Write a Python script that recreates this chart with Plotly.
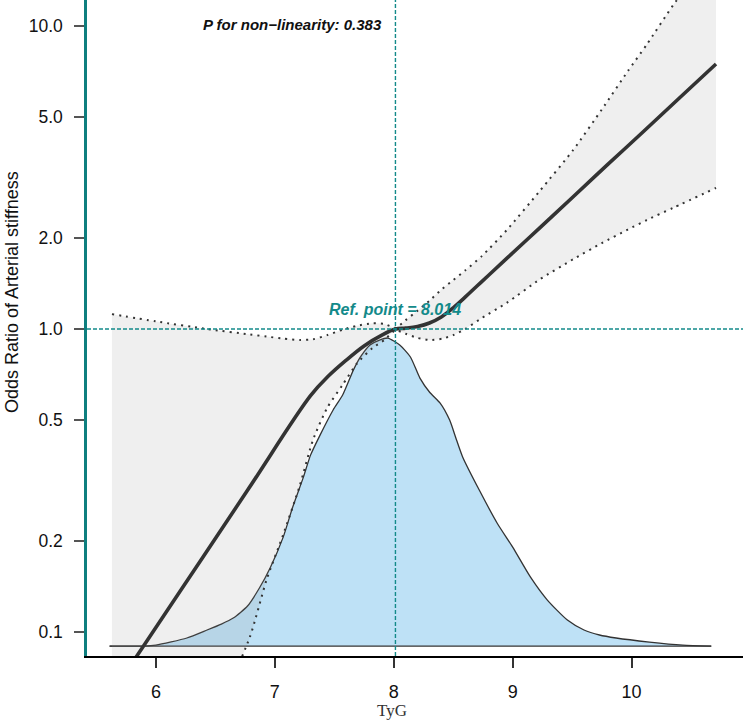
import numpy as np
import plotly.graph_objects as go

# ---------------- data ----------------
curve_x = [5.63, 6.2, 6.77, 7.30, 7.45, 7.60, 7.75, 7.90, 8.014,
           8.1, 8.2, 8.3, 8.4, 8.5, 8.6, 8.7, 8.8, 8.95, 9.23, 9.5, 9.8, 10.1, 10.4, 10.71]
curve_or = [0.063, 0.136, 0.294, 0.603, 0.70, 0.79, 0.88, 0.955, 1.0,
            1.007, 1.02, 1.047, 1.096, 1.175, 1.274, 1.387, 1.507, 1.71, 2.16, 2.71, 3.49, 4.48, 5.77, 7.48]

ci_x = [5.63, 6.0, 6.43, 6.79, 6.93, 7.07, 7.21, 7.32, 7.44, 7.57, 7.69, 7.82, 7.92, 8.014,
        8.1, 8.2, 8.3, 8.41, 8.5, 8.6, 8.74, 8.95, 9.23, 9.51, 9.75, 9.97, 10.13, 10.35, 10.71]
ci_upper = [1.12, 1.06, 1.00, 0.96, 0.945, 0.93, 0.92, 0.925, 0.955, 0.995, 1.025, 1.045, 1.04, 1.01,
            1.07, 1.15, 1.24, 1.36, 1.45, 1.56, 1.74, 2.12, 2.86, 3.9, 5.3, 7.1, 8.7, 11.7, 18.0]
ci_lower = [0.010, 0.020, 0.045, 0.0966, 0.149, 0.21, 0.305, 0.43, 0.55, 0.655, 0.77, 0.865, 0.92, 0.99,
            0.965, 0.935, 0.92, 0.93, 0.955, 1.0, 1.087, 1.22, 1.46, 1.70, 1.92, 2.13, 2.29, 2.51, 2.92]

dens_x = [5.61, 5.9, 6.0, 6.26, 6.43, 6.55, 6.65, 6.77, 6.87, 6.96, 7.07, 7.15, 7.24, 7.30, 7.38,
          7.49, 7.57, 7.66, 7.72, 7.80, 7.88, 7.95, 8.05, 8.14, 8.22, 8.30, 8.39, 8.47, 8.52, 8.58,
          8.72, 8.87, 9.00, 9.15, 9.29, 9.46, 9.60, 9.73, 9.87, 10.15, 10.43, 10.67]
dens_top = [0.0901, 0.0901, 0.0908, 0.0958, 0.1018, 0.1065, 0.1115, 0.1221, 0.140, 0.163, 0.206,
            0.259, 0.325, 0.384, 0.447, 0.541, 0.606, 0.732, 0.809, 0.886, 0.920, 0.934, 0.886,
            0.809, 0.689, 0.620, 0.570, 0.501, 0.440, 0.378, 0.294, 0.229, 0.191, 0.152, 0.128,
            0.1098, 0.1018, 0.0980, 0.0958, 0.0929, 0.0908, 0.0901]
dens_base_x = [5.61, 10.67]
dens_base = [0.0901, 0.0901]

ref_x = 8.014
ref_or = 1.0
p_text = "P for non\u2212linearity: 0.383"
ref_text = "Ref. point = 8.014"

y_tickvals = [0.1, 0.2, 0.5, 1.0, 2.0, 5.0, 10.0]
y_ticktext = ["0.1", "0.2", "0.5", "1.0", "2.0", "5.0", "10.0"]
x_tickvals = [6, 7, 8, 9, 10]

TEAL = "#138a8a"
TEAL_AX = "#0e7f7f"
DARK = "#333333"

Y_RANGE = [-1.078, 1.085]
X_RANGE = [5.42, 10.937]

fig = go.Figure()

# density baseline and fill
fig.add_trace(go.Scatter(x=dens_base_x, y=dens_base, mode="lines",
                         line=dict(color=DARK, width=1.3), hoverinfo="skip", showlegend=False))
fig.add_trace(go.Scatter(x=dens_x, y=dens_top, mode="lines", fill="tonexty",
                         fillcolor="#bee1f6", line=dict(color=DARK, width=1.3, shape="spline", smoothing=0.6),
                         hoverinfo="skip", showlegend=False))

# CI ribbon
fig.add_trace(go.Scatter(x=ci_x, y=ci_lower, mode="lines", line=dict(width=0, shape="spline", smoothing=0.6),
                         hoverinfo="skip", showlegend=False))
fig.add_trace(go.Scatter(x=ci_x, y=ci_upper, mode="lines", fill="tonexty",
                         fillcolor="rgba(140,140,140,0.14)", line=dict(width=0, shape="spline", smoothing=0.6),
                         hoverinfo="skip", showlegend=False))

# CI dotted lines
for arr in (ci_lower, ci_upper):
    fig.add_trace(go.Scatter(x=ci_x, y=arr, mode="lines",
                             line=dict(color=DARK, width=2, dash="2px,5px", shape="spline", smoothing=0.6),
                             hoverinfo="skip", showlegend=False))

# main curve
fig.add_trace(go.Scatter(x=curve_x, y=curve_or, mode="lines",
                         line=dict(color=DARK, width=3.6, shape="spline", smoothing=1.0),
                         hoverinfo="skip", showlegend=False))

# reference lines
ref_y_paper = (np.log10(ref_or) - Y_RANGE[0]) / (Y_RANGE[1] - Y_RANGE[0])
fig.add_shape(type="line", xref="x", yref="paper", x0=ref_x, x1=ref_x, y0=0, y1=1,
              line=dict(color=TEAL, width=1.4, dash="4px,2px"))
fig.add_shape(type="line", xref="paper", yref="paper", x0=0, x1=1,
              y0=ref_y_paper, y1=ref_y_paper,
              line=dict(color=TEAL, width=1.4, dash="4px,2px"))

W, H = 744, 721
ml, mr, mt, mb = 87, 1, 0, 65
pw, ph = W - ml - mr, H - mt - mb

def px2paper(px, py):
    return (px - ml) / pw, (ph - (py - mt)) / ph

ax_, ay_ = px2paper(292.5, 24)
fig.add_annotation(text=p_text, xref="paper", yref="paper", x=ax_, y=ay_, showarrow=False,
                   font=dict(family="Liberation Sans, Arial", size=15, color="#111111", weight="bold", style="italic"),
                   xanchor="center", yanchor="middle")
_, ry = px2paper(0, 309)
fig.add_annotation(text=ref_text, xref="x", yref="paper", x=ref_x, y=ry, showarrow=False,
                   font=dict(family="Liberation Sans, Arial", size=16, color=TEAL, weight="bold", style="italic"),
                   xanchor="center", yanchor="middle")
_, ty = px2paper(0, 292)
fig.add_annotation(text="Odds Ratio of Arterial stiffness", xref="paper", yref="paper",
                   x=(12 - ml) / pw, y=ty, textangle=-90, showarrow=False,
                   font=dict(family="Liberation Sans, Arial", size=18, color="#111111"),
                   xanchor="center", yanchor="middle")
gx, gy = px2paper(392, 711)
fig.add_annotation(text="TyG", xref="paper", yref="paper", x=gx, y=gy, showarrow=False,
                   font=dict(family="Liberation Serif, Times New Roman", size=17, color="#333333"),
                   xanchor="center", yanchor="middle")

fig.update_layout(
    width=W, height=H,
    margin=dict(l=ml, r=mr, t=mt, b=mb),
    paper_bgcolor="white", plot_bgcolor="white",
    showlegend=False,
    xaxis=dict(range=X_RANGE, tickvals=x_tickvals, showgrid=False, zeroline=False,
               showline=True, linecolor="black", linewidth=2, ticks="outside", ticklen=10,
               tickwidth=1.5, tickcolor="#333333", ticklabelstandoff=8,
               tickfont=dict(family="Liberation Sans, Arial", size=18, color="#111111")),
    yaxis=dict(type="log", range=Y_RANGE, tickvals=y_tickvals, ticktext=y_ticktext,
               showgrid=False, zeroline=False, showline=True, linecolor=TEAL_AX, linewidth=2.5,
               ticks="outside", ticklen=10, tickwidth=1.5, tickcolor="#555555", ticklabelstandoff=8,
               tickfont=dict(family="Liberation Sans, Arial", size=17.5, color="#111111")),
)

fig.write_html("out.html", config={"displayModeBar": False},
               post_script="document.body.style.margin='0';document.body.style.padding='0';")
